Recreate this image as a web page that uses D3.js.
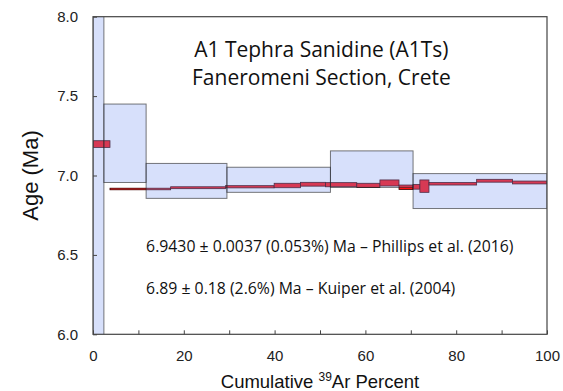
<!DOCTYPE html>
<html>
<head>
<meta charset="utf-8">
<script src="https://cdn.jsdelivr.net/npm/d3@7"></script>
<style>
  body { margin: 0; background: #fff; }
  svg { display: block; }
</style>
</head>
<body>
<div id="chart"></div>
<script>
// Kuiper et al. (2004) steps: cumulative 39Ar at end of step, age, 1 sigma error
var kuiperStepEnd = [2.4, 11.7, 29.5, 52.3, 70.5, 100];
var kuiperAge = [7.0, 7.203, 6.966, 6.973, 7.04, 6.902];
var kuiperErr = [2.0, 0.247, 0.11, 0.079, 0.115, 0.11];

// Phillips et al. (2016) steps
var phillipsStepEnd = [3.74, 17.1, 29.2, 39.9, 45.7, 51.2, 58.1, 63.2, 67.4, 70.5, 72.0, 74.0, 84.5, 92.4, 100];
var phillipsAge = [7.198, 6.915, 6.923, 6.929, 6.937, 6.945, 6.942, 6.938, 6.953, 6.926, 6.929, 6.933, 6.948, 6.967, 6.956];
var phillipsErr = [0.021, 0.005, 0.006, 0.007, 0.014, 0.012, 0.013, 0.013, 0.019, 0.014, 0.015, 0.039, 0.008, 0.009, 0.009];

var xTickValues = [0, 10, 20, 30, 40, 50, 60, 70, 80, 90, 100];
var xTickLabels = [0, 20, 40, 60, 80, 100];
var yTickValues = [6.0, 6.5, 7.0, 7.5, 8.0];

var titleLines = ["A1 Tephra Sanidine (A1Ts)", "Faneromeni Section, Crete"];
var notes = ["6.9430 \u00b1 0.0037 (0.053%) Ma \u2013 Phillips et al. (2016)",
             "6.89 \u00b1 0.18 (2.6%) Ma \u2013 Kuiper et al. (2004)"];
var noteAge = [6.52, 6.255];

var W = 563, H = 391;
var margin = {top: 16.7, right: 16, bottom: 56.7, left: 93};
var w = W - margin.left - margin.right;
var h = H - margin.top - margin.bottom;

var svg = d3.select("#chart").append("svg")
    .attr("width", W)
    .attr("height", H);

var x = d3.scaleLinear().domain([0, 100]).range([0, w]);
var y = d3.scaleLinear().domain([6, 8]).range([h, 0]);

var g = svg.append("g").attr("transform", "translate(" + margin.left + "," + margin.top + ")");

g.append("clipPath").attr("id", "plotClip")
  .append("rect").attr("width", w).attr("height", h);

var plot = g.append("g").attr("clip-path", "url(#plotClip)");

// build step rectangles from the arrays
function steps(ends, ages, errs) {
    var out = [];
    for (var i = 0; i < ends.length; i++) {
        out.push({x0: i === 0 ? 0 : ends[i - 1], x1: ends[i], lo: ages[i] - errs[i], hi: ages[i] + errs[i]});
    }
    return out;
}

// red (Phillips) below, translucent blue (Kuiper) on top
plot.selectAll("rect.phillips")
    .data(steps(phillipsStepEnd, phillipsAge, phillipsErr))
    .enter().append("rect")
    .attr("class", "phillips")
    .attr("x", function(d) { return x(d.x0); })
    .attr("width", function(d) { return x(d.x1) - x(d.x0); })
    .attr("y", function(d) { return y(d.hi); })
    .attr("height", function(d) { return Math.max(1.5, y(d.lo) - y(d.hi)); })
    .attr("fill", "#ff1010")
    .attr("stroke", "#3a0000")
    .attr("stroke-width", 0.8);

plot.selectAll("rect.kuiper")
    .data(steps(kuiperStepEnd, kuiperAge, kuiperErr))
    .enter().append("rect")
    .attr("class", "kuiper")
    .attr("x", function(d) { return x(d.x0); })
    .attr("width", function(d) { return x(d.x1) - x(d.x0); })
    .attr("y", function(d) { return y(d.hi); })
    .attr("height", function(d) { return y(d.lo) - y(d.hi); })
    .attr("fill", "rgb(121,151,241)")
    .attr("fill-opacity", 0.3)
    .attr("stroke", "#222")
    .attr("stroke-opacity", 0.6)
    .attr("stroke-width", 1);

// frame
g.append("rect")
    .attr("width", w).attr("height", h)
    .attr("fill", "none")
    .attr("stroke", "#444")
    .attr("stroke-width", 1.2);

// axes, ticks pointing inward
var xAxis = g.append("g")
    .attr("transform", "translate(0," + h + ")")
    .call(d3.axisBottom(x).tickValues(xTickValues).tickSizeInner(-4).tickSizeOuter(0)
        .tickFormat(function(d) { return xTickLabels.indexOf(d) >= 0 ? d : ""; }));
var yAxis = g.append("g")
    .call(d3.axisLeft(y).tickValues(yTickValues).tickSizeInner(-4).tickSizeOuter(0)
        .tickFormat(d3.format(".1f")));

[xAxis, yAxis].forEach(function(a) {
    a.select(".domain").remove();
    a.selectAll(".tick line").attr("stroke", "#444");
    a.selectAll(".tick text")
        .attr("font-family", "Liberation Sans, Arial, sans-serif")
        .attr("font-size", 15)
        .attr("fill", "#222");
});
xAxis.selectAll(".tick text").attr("y", 16);
yAxis.selectAll(".tick text").attr("x", -15);

// title and notes
g.selectAll("text.title")
    .data(titleLines)
    .enter().append("text")
    .attr("class", "title")
    .attr("x", x(50.3))
    .attr("y", function(d, i) { return 40 + i * 28.3; })
    .attr("text-anchor", "middle")
    .attr("font-family", "Open Sans, sans-serif")
    .attr("font-size", 21)
    .attr("fill", "#111")
    .text(function(d) { return d; });

g.selectAll("text.note")
    .data(notes)
    .enter().append("text")
    .attr("class", "note")
    .attr("x", x(11.7))
    .attr("y", function(d, i) { return y(noteAge[i]); })
    .attr("font-family", "Open Sans, sans-serif")
    .attr("font-size", 15.8)
    .attr("fill", "#111")
    .text(function(d) { return d; });

// axis titles
svg.append("text")
    .attr("transform", "translate(38," + (margin.top + h / 2) + ") rotate(-90)")
    .attr("text-anchor", "middle")
    .attr("font-family", "Liberation Sans, Arial, sans-serif")
    .attr("font-size", 22)
    .attr("fill", "#111")
    .text("Age (Ma)");

var xl = svg.append("text")
    .attr("x", margin.left + w / 2)
    .attr("y", 388)
    .attr("text-anchor", "middle")
    .attr("font-family", "Liberation Sans, Arial, sans-serif")
    .attr("font-size", 18.5)
    .attr("fill", "#111");
xl.append("tspan").text("Cumulative ");
xl.append("tspan").attr("font-size", 12).attr("dy", -7).text("39");
xl.append("tspan").attr("dy", 7).text("Ar Percent");
</script>
</body>
</html>
